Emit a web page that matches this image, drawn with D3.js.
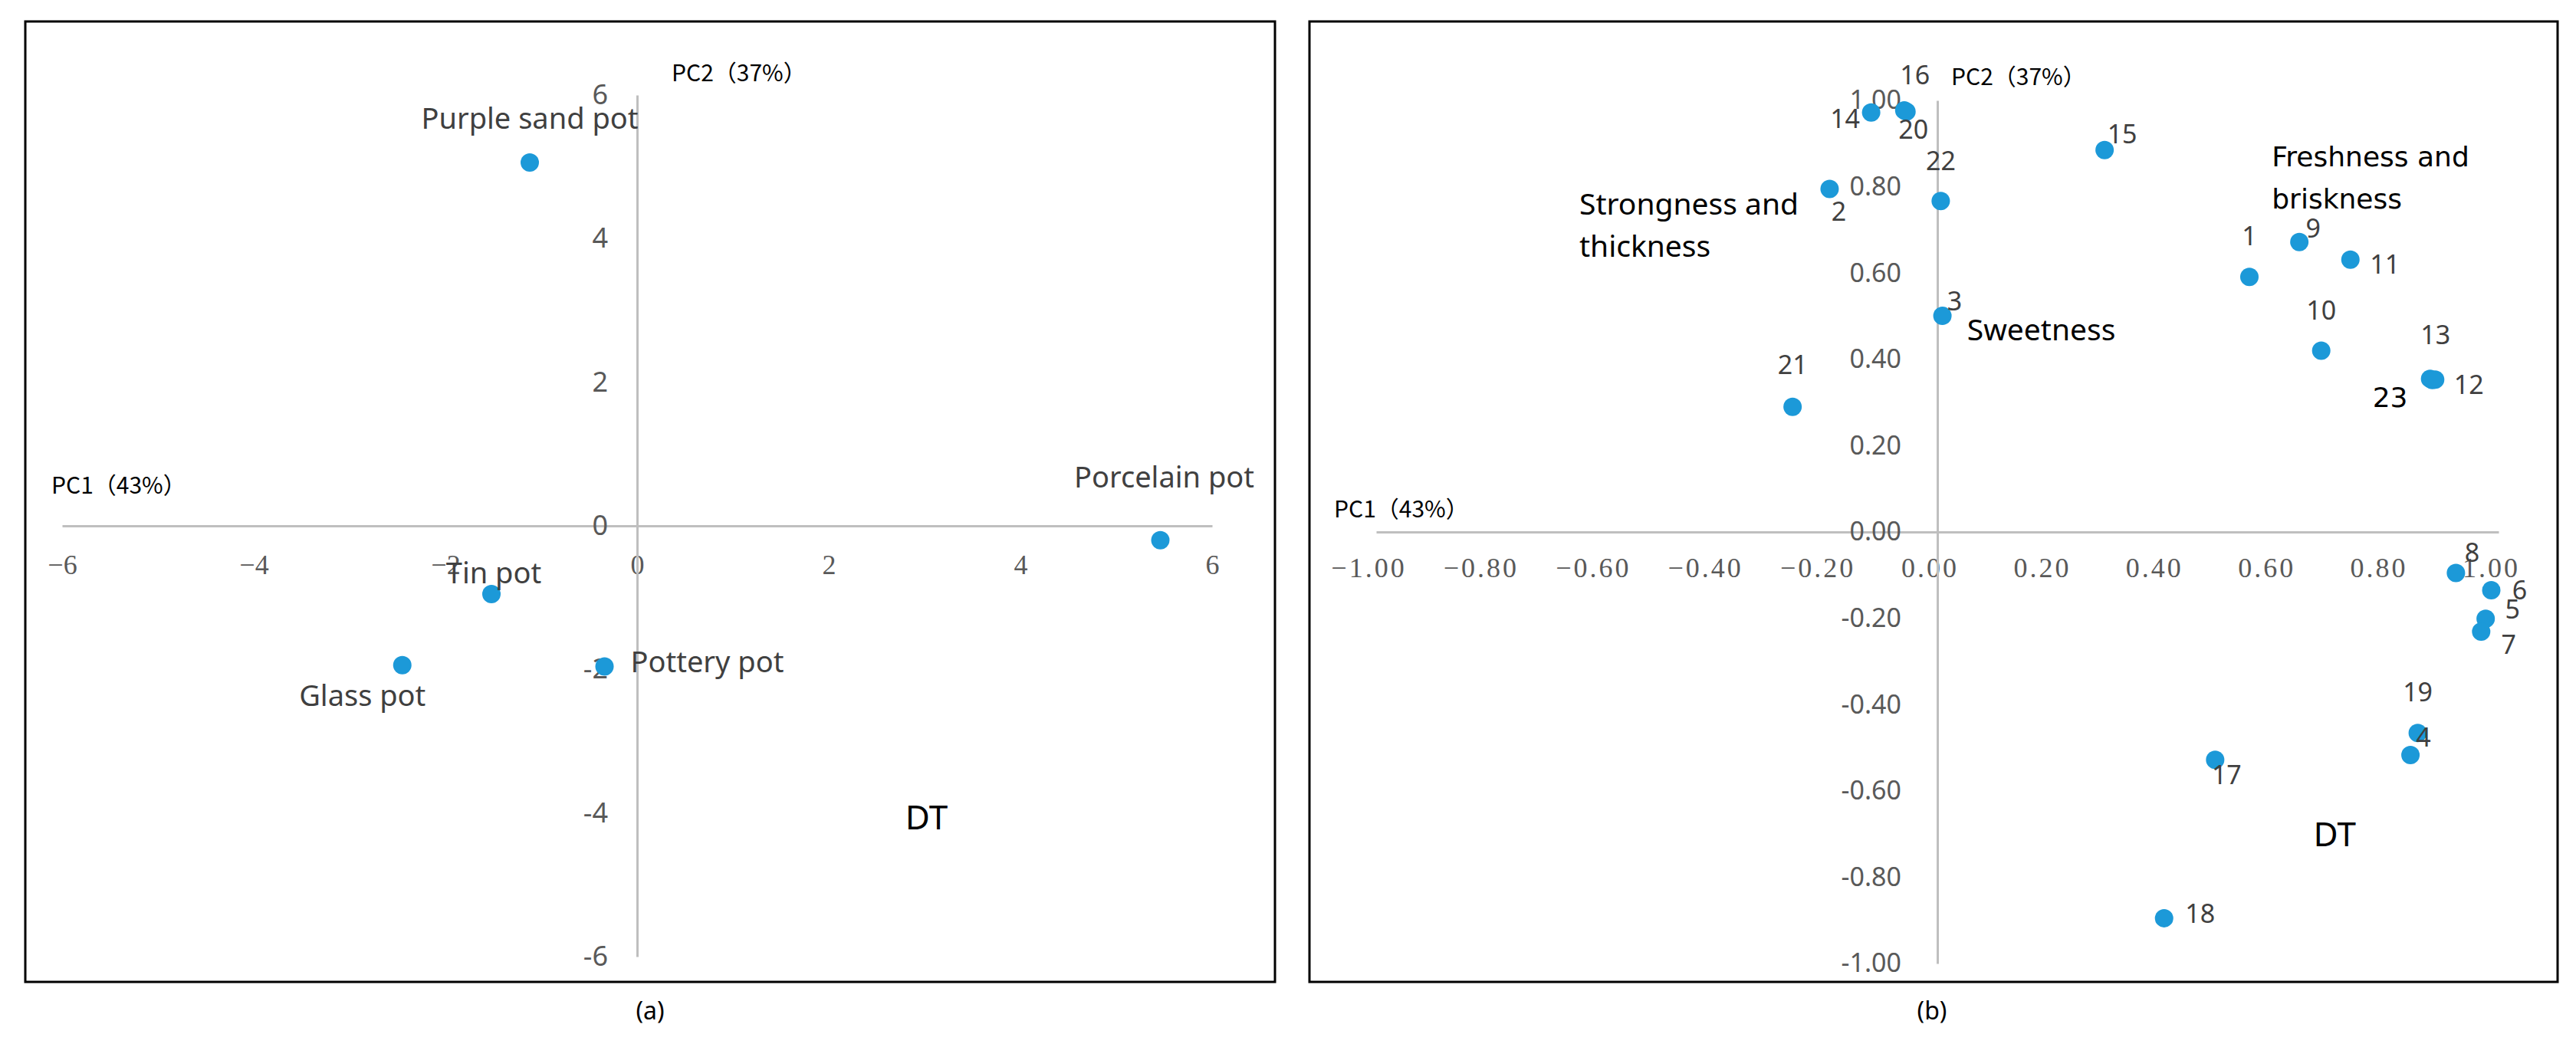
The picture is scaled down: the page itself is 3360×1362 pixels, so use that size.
<!DOCTYPE html>
<html>
<head>
<meta charset="utf-8">
<script src="https://cdn.jsdelivr.net/npm/d3@7"></script>
<style>
  body { margin: 0; background: #fff; }
  svg { display: block; }
  .axis path { stroke: #bfbfbf; stroke-width: 3; }
  .axis line { display: none; }
  .xAxis text { font-family: "Liberation Serif", "DejaVu Serif", serif; font-size: 36px; fill: #595959; }
  .yAxis text { font-family: "Noto Sans", sans-serif; fill: #595959; }
  .frame { fill: none; stroke: #000; stroke-width: 3; }
  .dot { fill: #1c99d8; }
  .ptLabel { font-family: "Noto Sans", sans-serif; fill: #404040; }
  .axTitle { font-family: "Noto Sans CJK SC", sans-serif; font-size: 30px; fill: #000; }
  .caption { font-family: "Noto Sans", sans-serif; font-size: 32px; fill: #000; }
</style>
</head>
<body>
<div id="chart"></div>
<script>

// (a) PCA scores of the tea brewed in different pots
var potNames = ["Purple sand pot", "Porcelain pot", "Tin pot", "Glass pot", "Pottery pot"];
var potPC1 = [-1.12, 5.46, -1.52, -2.45, -0.34];
var potPC2 = [5.06, -0.20, -0.95, -1.94, -1.96];

var xTicksA = [-6, -4, -2, 0, 2, 4, 6];
var xTickLabelsA = ["\u22126", "\u22124", "\u22122", "0", "2", "4", "6"];
var yTicksA = [-6, -4, -2, 0, 2, 4, 6];
var yTickLabelsA = ["-6", "-4", "-2", "0", "2", "4", "6"];

// (b) loadings of the sensory attributes
var attrIds = ["1", "2", "3", "4", "5", "6", "7", "8", "9", "10", "11", "12",
               "13", "14", "15", "16", "17", "18", "19", "20", "21", "22", "23"];
var attrPC1 = [0.556, -0.192, 0.009, 0.843, 0.977, 0.987, 0.969, 0.924, 0.645, 0.684, 0.736, 0.887,
               0.878, -0.118, 0.298, -0.059, 0.495, 0.404, 0.856, -0.055, -0.258, 0.006, 0.882];
var attrPC2 = [0.591, 0.795, 0.501, -0.517, -0.201, -0.135, -0.231, -0.095, 0.672, 0.420, 0.631, 0.353,
               0.355, 0.972, 0.885, 0.977, -0.528, -0.895, -0.466, 0.974, 0.290, 0.767, 0.352];

var xTicksB = [-1, -0.8, -0.6, -0.4, -0.2, 0, 0.2, 0.4, 0.6, 0.8, 1];
var xTickLabelsB = ["\u22121.00", "\u22120.80", "\u22120.60", "\u22120.40", "\u22120.20", "0.00",
                    "0.20", "0.40", "0.60", "0.80", "1.00"];
var yTicksB = [-1, -0.8, -0.6, -0.4, -0.2, 0, 0.2, 0.4, 0.6, 0.8, 1];
var yTickLabelsB = ["-1.00", "-0.80", "-0.60", "-0.40", "-0.20", "0.00",
                    "0.20", "0.40", "0.60", "0.80", "1.00"];


var svg = d3.select("#chart").append("svg")
    .attr("width", 3360)
    .attr("height", 1362);

// label offsets from their point, in px
var potLabelPos = [[0, -57, "middle"], [5, -82, "middle"], [3, -27, "middle"], [-52, 40, "middle"], [34, -6, "start"]];
var attrLabelPos = [[0, -53], [12, 30], [16, -19], [17, -23], [35, -12], [37, 0], [36, 17], [21, -26],
                    [18, -18], [0, -52], [45, 6], [44, 7], [7, -57], [-34, 8], [23, -21], [14, -46],
                    [15, 20], [47, -6], [0, -53], [9, 23], [0, -55], [0, -52], [-55, 23]];

function drawPanel(p) {
  var g = svg.append("g");

  g.append("rect").attr("class", "frame")
      .attr("x", p.frame[0]).attr("y", p.frame[1])
      .attr("width", p.frame[2] - p.frame[0]).attr("height", p.frame[3] - p.frame[1]);

  var x = d3.scaleLinear().domain(p.xDomain).range(p.xRange);
  var y = d3.scaleLinear().domain(p.yDomain).range(p.yRange);

  var gx = g.append("g")
      .attr("class", "axis xAxis")
      .attr("transform", "translate(0," + y(0) + ")")
      .call(d3.axisBottom(x).tickValues(p.xTicks).tickSize(0)
          .tickFormat(function (d, i) { return p.xTickLabels[i]; }));
  gx.selectAll("text")
      .attr("y", p.xLabelGap)
      .attr("dy", "0.35em")
      .attr("dx", p.xLabelShift)
      .style("letter-spacing", p.xLetterSpacing + "px");

  var gy = g.append("g")
      .attr("class", "axis yAxis")
      .attr("transform", "translate(" + x(0) + ",0)")
      .call(d3.axisLeft(y).tickValues(p.yTicks).tickSize(0).tickPadding(p.yPad)
          .tickFormat(function (d, i) { return p.yTickLabels[i]; }));
  gy.selectAll("text").style("font-size", p.yFont + "px");

  // axis titles
  g.append("text").attr("class", "axTitle")
      .attr("x", x.range()[0] + p.pc1Pos[0]).attr("y", y(0) + p.pc1Pos[1])
      .attr("dy", "0.35em").text("PC1（43%）");
  g.append("text").attr("class", "axTitle")
      .attr("x", x(0) + p.pc2Pos[0]).attr("y", y.range()[1] + p.pc2Pos[1])
      .attr("dy", "0.35em").text("PC2（37%）");

  // points
  g.selectAll(".dot").data(p.names).enter().append("circle")
      .attr("class", "dot")
      .attr("cx", function (d, i) { return x(p.px[i]); })
      .attr("cy", function (d, i) { return y(p.py[i]); })
      .attr("r", 12);

  g.selectAll(".ptLabel").data(p.names).enter().append("text")
      .attr("class", "ptLabel")
      .attr("x", function (d, i) { return x(p.px[i]) + p.labelPos[i][0]; })
      .attr("y", function (d, i) { return y(p.py[i]) + p.labelPos[i][1]; })
      .attr("dy", "0.35em")
      .attr("text-anchor", function (d, i) { return p.labelPos[i][2] || "middle"; })
      .style("font-size", function (d) { return (p.special[d] ? p.special[d] : p.labelFont) + "px"; })
      .style("fill", function (d) { return p.special[d] ? "#000" : null; })
      .style("font-family", function (d) { return p.special[d] ? "'DejaVu Sans', sans-serif" : null; })
      .text(function (d) { return d; });

  // group annotations
  p.notes.forEach(function (n) {
    var t = g.append("text")
        .attr("x", x(n.x)).attr("y", y(n.y))
        .attr("text-anchor", n.anchor)
        .style("font-family", n.family)
        .style("font-size", n.size + "px")
        .style("fill", "#000");
    n.lines.forEach(function (line, k) {
      t.append("tspan").attr("x", x(n.x)).attr("y", y(n.y) + k * 55)
          .attr("dy", "0.35em").text(line);
    });
  });

  g.append("text").attr("class", "caption")
      .attr("x", p.caption[1]).attr("y", 1319)
      .attr("dy", "0.35em").attr("text-anchor", "middle")
      .text(p.caption[0]);
}

drawPanel({
  frame: [33, 28, 1663, 1281],
  xDomain: [-6, 6], xRange: [81, 1581],
  yDomain: [-6, 6], yRange: [1248, 124],
  xTicks: xTicksA, xTickLabels: xTickLabelsA, xLabelGap: 50, xLabelShift: 0, xLetterSpacing: 0,
  yTicks: yTicksA, yTickLabels: yTickLabelsA, yPad: 38, yFont: 36,
  pc1Pos: [-14, -53], pc2Pos: [45, -29],
  names: potNames, px: potPC1, py: potPC2, labelPos: potLabelPos, labelFont: 38, special: {},
  notes: [{ lines: ["DT"], x: 3.02, y: -4.06, anchor: "middle", size: 44, family: "'Noto Sans', sans-serif" }],
  caption: ["(a)", 848]
});

drawPanel({
  frame: [1708, 28, 3336, 1281],
  xDomain: [-1, 1], xRange: [1795, 3259],
  yDomain: [-1, 1], yRange: [1257, 131],
  xTicks: xTicksB, xTickLabels: xTickLabelsB, xLabelGap: 46, xLabelShift: -10, xLetterSpacing: 3,
  yTicks: yTicksB, yTickLabels: yTickLabelsB, yPad: 47, yFont: 34,
  pc1Pos: [-55, -30], pc2Pos: [18, -31],
  names: attrIds, px: attrPC1, py: attrPC2, labelPos: attrLabelPos, labelFont: 34, special: { "23": 36 },
  notes: [
    { lines: ["Strongness and", "thickness"], x: -0.638, y: 0.760, anchor: "start", size: 39, family: "'Noto Sans', sans-serif" },
    { lines: ["Sweetness"], x: 0.053, y: 0.469, anchor: "start", size: 39, family: "'Noto Sans', sans-serif" },
    { lines: ["Freshness and", "briskness"], x: 0.596, y: 0.870, anchor: "start", size: 36, family: "'DejaVu Sans', sans-serif" },
    { lines: ["DT"], x: 0.708, y: -0.70, anchor: "middle", size: 44, family: "'Noto Sans', sans-serif" }
  ],
  caption: ["(b)", 2520]
});

</script>
</body>
</html>
